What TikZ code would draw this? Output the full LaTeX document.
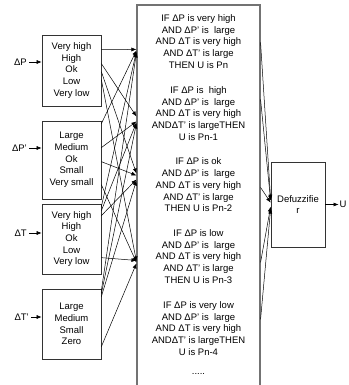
\documentclass[tikz,border=0pt]{standalone}
\usepackage{fontspec}
\setmainfont{Liberation Sans}
\usetikzlibrary{arrows.meta}
\begin{document}
\begin{tikzpicture}[x=1pt,y=-1pt,
  txt/.style={font=\fontsize{9.5}{11.7}\selectfont, align=center, inner sep=0pt},
  box/.style={draw=black!80, line width=0.7pt, minimum width=59pt, inner sep=0pt, txt},
  conn/.style={line width=0.5pt, -{Latex[length=5pt,width=4pt]}}]
\useasboundingbox (0,0) rectangle (348,385);
% input boxes
\node[box, minimum height=71pt] (b1) at (71.5,70.5) {Very high\\High\\Ok\\Low\\Very low};
\node[box, minimum height=78pt] (b2) at (71.5,160) {Large\\Medium\\Ok\\Small\\Very small};
\node[box, minimum height=70pt] (b3) at (71.5,239) {Very high\\High\\Ok\\Low\\Very low};
\node[box, minimum height=70pt] (b4) at (71.5,324) {Large\\Medium\\Small\\Zero};
% input labels
\node[txt, anchor=east] (i1) at (27,62) {ΔP};
\node[txt, anchor=east] (i2) at (27,148) {ΔP'};
\node[txt, anchor=east] (i3) at (27,233) {ΔT};
\node[txt, anchor=east] (i4) at (29,317) {ΔT'};
\draw[conn] ([xshift=2pt]i1.east) -- (i1 -| b1.west);
\draw[conn] ([xshift=2pt]i2.east) -- (i2 -| b2.west);
\draw[conn] ([xshift=2pt]i3.east) -- (i3 -| b3.west);
\draw[conn] ([xshift=2pt]i4.east) -- (i4 -| b4.west);
% rules box
\node[draw=black!55, line width=1.1pt, minimum width=123pt, minimum height=400pt, inner sep=0pt] (rules) at (198.5,205) {};
\node[txt] (r1) at (198.5,41.5) {IF ΔP is very high\\AND ΔP' is\ \ large\\AND ΔT is very high\\AND ΔT' is large\\THEN U is Pn};
\node[txt] (r2) at (198.5,113.5) {IF ΔP is\ \ high\\AND ΔP' is\ \ large\\AND ΔT is very high\\ANDΔT' is largeTHEN\\U is Pn-1};
\node[txt] (r3) at (198.5,185) {IF ΔP is ok\\AND ΔP' is\ \ large\\AND ΔT is very high\\AND ΔT' is large\\THEN U is Pn-2};
\node[txt] (r4) at (198.5,256.5) {IF ΔP is low\\AND ΔP' is\ \ large\\AND ΔT is very high\\AND ΔT' is large\\THEN U is Pn-3};
\node[txt] (r5) at (198.5,328.5) {IF ΔP is very low\\AND ΔP' is\ \ large\\AND ΔT is very high\\ANDΔT' is largeTHEN\\U is Pn-4};
\node[txt] (rd) at (198.5,374) {.....};
% defuzzifier
\node[draw=black!80, line width=0.7pt, minimum width=54pt, minimum height=85pt, inner sep=0pt, txt] (defz) at (298,204.5) {Defuzzifie\\r};
\node[txt, anchor=west] (u) at (339.5,204.5) {U};
\draw[conn] (defz.east) -- ([xshift=-1pt]u.west);
% box 1 -> rules
\draw[conn] ([yshift=-15pt]b1.north east) -- ([yshift=-45pt]rules.north west);
\draw[conn] ([yshift=-29pt]b1.north east) -- ([yshift=-112pt]rules.north west);
\draw[conn] ([yshift=-37pt]b1.north east) -- ([yshift=-169pt]rules.north west);
\draw[conn] ([yshift=-45pt]b1.north east) -- ([yshift=-257pt]rules.north west);
% box 2 -> rules
\draw[conn] ([yshift=-3pt]b2.north east) -- ([yshift=-46pt]rules.north west);
\draw[conn] ([yshift=-27pt]b2.north east) -- ([yshift=-117pt]rules.north west);
\draw[conn] ([yshift=-41pt]b2.north east) -- ([yshift=-171pt]rules.north west);
\draw[conn] ([yshift=-64pt]b2.north east) -- ([yshift=-258pt]rules.north west);
% box 3 -> rules
\draw[conn] ([yshift=-3pt]b3.north east) -- ([yshift=-47pt]rules.north west);
\draw[conn] ([yshift=-7pt]b3.north east) -- ([yshift=-118pt]rules.north west);
\draw[conn] ([yshift=-12pt]b3.north east) -- ([yshift=-175pt]rules.north west);
\draw[conn] ([yshift=-54pt]b3.north east) -- ([yshift=-256pt]rules.north west);
% box 4 -> rules
\draw[conn] ([yshift=-2pt]b4.north east) -- ([yshift=-48pt]rules.north west);
\draw[conn] ([yshift=-5pt]b4.north east) -- ([yshift=-119pt]rules.north west);
\draw[conn] ([yshift=-8pt]b4.north east) -- ([yshift=-176pt]rules.north west);
\draw[conn] ([yshift=-58pt]b4.north east) -- ([yshift=-259pt]rules.north west);
% rules -> defuzzifier
\draw[conn] ([yshift=-38pt]rules.north east) -- ([yshift=-38pt]defz.north west);
\draw[conn] ([yshift=-95pt]rules.north east) -- ([yshift=-39pt]defz.north west);
\draw[conn] ([yshift=-183pt]rules.north east) -- ([yshift=-41pt]defz.north west);
\draw[conn] ([yshift=-258pt]rules.north east) -- ([yshift=-45pt]defz.north west);
\draw[conn] ([yshift=-315pt]rules.north east) -- ([yshift=-47pt]defz.north west);
\end{tikzpicture}
\end{document}
